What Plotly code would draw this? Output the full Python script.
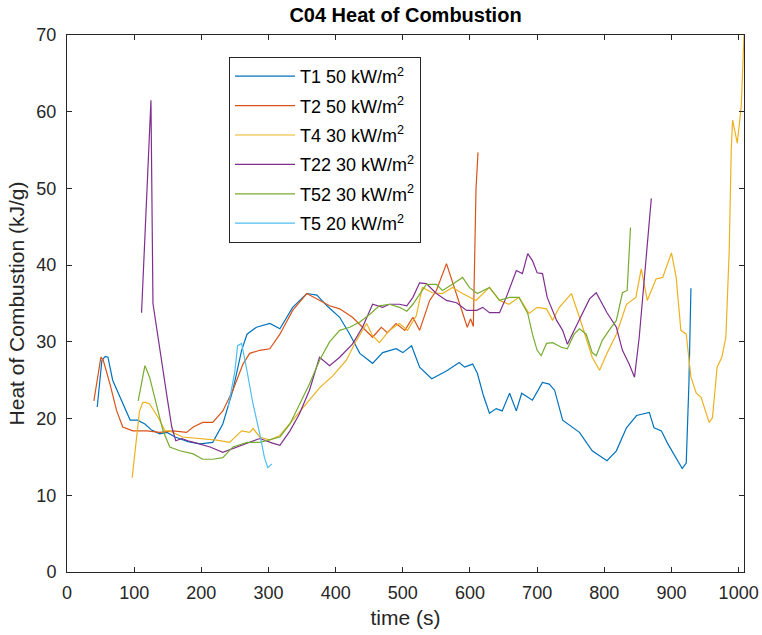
import plotly.graph_objects as go

# ---- data ----
t1_x = [45, 52, 57, 61, 68, 80, 94, 105, 116, 126, 138, 149, 161, 180, 198, 217, 232, 247, 260, 268, 282, 302, 317, 336, 357, 372, 387, 406, 421, 436, 455, 470, 490, 500, 513, 525, 543, 565, 584, 592, 604, 611, 620, 629, 639, 648, 659, 669, 677, 693, 708, 718, 726, 738, 763, 782, 804, 818, 833, 848, 867, 874, 885, 894, 907, 916, 922, 926, 929]
t1_y = [21.5, 27.6, 28.1, 28, 25, 22.5, 19.8, 19.8, 19.3, 18.5, 18, 18.2, 17.6, 17, 16.7, 16.9, 19.3, 23.7, 28.9, 31, 31.9, 32.4, 31.7, 34.5, 36.3, 36.1, 34.7, 33.2, 31, 28.5, 27.2, 28.6, 29.1, 28.6, 29.5, 26.7, 25.2, 26.2, 27.3, 26.7, 27.1, 25.9, 23, 20.7, 21.3, 21, 23.3, 21, 23.3, 22.4, 24.7, 24.5, 23.7, 19.8, 18.2, 15.8, 14.5, 15.8, 18.8, 20.4, 20.8, 18.8, 18.4, 16.8, 14.8, 13.5, 14.2, 24.6, 37]

t2_x = [40, 50.5, 54, 64, 74, 83, 98, 119, 138, 158, 178, 188, 202, 217, 232, 247, 262, 272, 287, 302, 317, 336, 357, 376, 391, 406, 425, 440, 455, 468, 477, 490, 503, 515, 525, 540, 550, 565, 577, 589, 596, 601, 605, 609, 612]
t2_y = [22.3, 28, 27.6, 24.5, 21, 18.9, 18.4, 18.4, 18.2, 18.4, 18.2, 18.9, 19.5, 19.5, 21, 23.7, 27.1, 28.5, 28.9, 29.1, 31, 34.1, 36.3, 35.4, 34.7, 34.3, 33.2, 31.9, 30.6, 31.9, 31.2, 32.4, 31.5, 33.2, 31.5, 35.4, 36.7, 40.2, 37.1, 33.7, 31.9, 33, 32, 50, 54.7]

t4_x = [97, 108, 113, 117, 123, 136, 146, 153, 172, 198, 223, 242, 252, 260, 272, 277, 287, 302, 317, 336, 357, 376, 396, 416, 431, 446, 455, 465, 480, 495, 507, 520, 529, 544, 559, 574, 589, 609, 629, 644, 658, 673, 688, 700, 714, 723, 733, 751, 763, 773, 782, 793, 804, 818, 833, 847, 855, 864, 877, 887, 900, 907, 914, 922, 929, 937, 944, 956, 961, 968, 975, 981, 986, 989, 991, 998, 1004, 1008]
t4_y = [12.3, 21, 22.1, 22.1, 21.9, 20.1, 18.4, 18.4, 17.6, 17.4, 17.2, 16.9, 17.8, 18.4, 18.2, 18.7, 17.6, 17.2, 17.8, 19.8, 21.9, 24, 25.6, 27.6, 30.2, 32.4, 30.8, 29.9, 31.5, 32.4, 31.5, 33.4, 37.1, 36.4, 36.3, 37.1, 36.3, 35.4, 37.1, 35.4, 34.9, 35.8, 33.7, 34.5, 34.3, 32.8, 34.5, 36.3, 33.2, 30.6, 28, 26.3, 28.5, 31, 34.9, 35.8, 39.5, 35.4, 38.2, 38.4, 41.6, 38.4, 31.5, 31, 25.4, 23.3, 22.8, 19.5, 20.1, 26.7, 28, 30.6, 41.9, 55, 58.9, 55.9, 60.8, 70]

t22_x = [111, 125, 128, 138, 149, 156, 162, 171, 180, 193, 213, 232, 247, 268, 287, 306, 317, 332, 346, 361, 376, 391, 406, 425, 440, 455, 470, 480, 495, 506, 515, 525, 535, 550, 565, 580, 595, 610, 619, 629, 644, 654, 669, 678, 686, 693, 700, 708, 715, 729, 738, 745, 755, 767, 778, 788, 797, 804, 818, 827, 837, 845, 852, 862, 870]
t22_y = [33.8, 61.5, 35, 28.9, 22.8, 18.9, 17.1, 17.4, 17.1, 16.8, 16.3, 15.6, 16.1, 16.8, 17.4, 16.8, 16.5, 18.4, 20.6, 23.7, 28, 26.9, 28, 29.7, 31.9, 34.9, 34.5, 34.9, 34.9, 34.7, 35.8, 37.7, 37.6, 36.3, 35.4, 35.1, 34.1, 34.1, 34.5, 33.8, 33.8, 35.8, 39.3, 38.9, 41.5, 40.6, 39, 38.9, 35.8, 32.8, 31.5, 29.7, 31.5, 33.7, 35.6, 36.4, 34.9, 33.8, 31.9, 28.9, 27.1, 25.4, 30.6, 40.2, 48.7]

t52_x = [106, 116, 123, 134, 143, 153, 168, 188, 202, 217, 232, 247, 268, 287, 302, 317, 332, 346, 361, 376, 391, 406, 421, 436, 451, 465, 480, 495, 506, 515, 525, 535, 550, 559, 574, 589, 599, 611, 629, 644, 659, 673, 686, 693, 700, 706, 714, 723, 736, 745, 755, 763, 773, 782, 788, 797, 807, 818, 827, 834, 839]
t52_y = [22.3, 26.9, 25.4, 21.4, 18.4, 16.3, 15.8, 15.4, 14.7, 14.7, 14.9, 16.3, 16.9, 16.9, 17.2, 17.6, 19.3, 21.9, 24.5, 27.6, 30, 31.5, 31.9, 32.6, 33.6, 34.7, 34.9, 34.5, 34, 34.9, 36.2, 37.5, 37.5, 36.7, 37.5, 38.4, 37.1, 36.3, 37.1, 35.4, 35.8, 35.8, 33.7, 31, 28.9, 28.2, 29.8, 29.9, 29.3, 29.1, 31, 31.7, 31, 28.6, 28.2, 30.2, 31.5, 32.8, 36.4, 36.7, 44.9]

t5_x = [240, 250, 254, 260, 268, 277, 287, 294, 299, 305]
t5_y = [21.5, 26.2, 29.5, 29.8, 26.2, 21.9, 18, 14.9, 13.6, 14.1]

names = ["T1 50 kW/m<sup>2</sup>", "T2 50 kW/m<sup>2</sup>", "T4 30 kW/m<sup>2</sup>",
         "T22 30 kW/m<sup>2</sup>", "T52 30 kW/m<sup>2</sup>", "T5 20 kW/m<sup>2</sup>"]
colors = ["#0072BD", "#D95319", "#EDB120", "#7E2F8E", "#77AC30", "#4DBEEE"]
xs = [t1_x, t2_x, t4_x, t22_x, t52_x, t5_x]
ys = [t1_y, t2_y, t4_y, t22_y, t52_y, t5_y]

x_ticks = list(range(0, 1001, 100))
y_ticks = list(range(0, 71, 10))

FONT = "Liberation Sans, Arial, sans-serif"
AX = "#262626"

fig = go.Figure()
for i, (x, y, n, c) in enumerate(zip(xs, ys, names, colors)):
    fig.add_trace(go.Scatter(x=x, y=y, mode="lines", name=n, legendgroup=f"g{i}",
                             line=dict(color=c, width=1.2)))

axis_common = dict(showline=True, linecolor=AX, linewidth=1, mirror="allticks",
                   ticks="inside", ticklen=5, tickcolor=AX, showgrid=False, automargin=False,
                   zeroline=False, tickfont=dict(family=FONT, size=18, color=AX))

fig.update_layout(
    width=762, height=635,
    margin=dict(l=67, r=18, t=35, b=63),
    paper_bgcolor="white", plot_bgcolor="white",
    font=dict(family=FONT, color=AX),
    title=dict(text="<b>C04 Heat of Combustion</b>", x=(67 + 744) / 2 / 762, xanchor="center",
               y=1 - 15 / 635, yanchor="middle", font=dict(size=20, color="#000000")),
    xaxis=dict(range=[0, 1008], tickvals=x_ticks, ticklabelstandoff=4,
               title=dict(text="time (s)", font=dict(size=21), standoff=8),
               **axis_common),
    yaxis=dict(range=[0, 70], tickvals=y_ticks, ticklabelstandoff=6,
               title=dict(text="Heat of Combustion (kJ/g)", font=dict(size=21), standoff=6),
               **axis_common),
    legend=dict(x=(229 - 67) / 677, y=(572 - 57) / 537, xanchor="left", yanchor="top",
                bgcolor="white", bordercolor=AX, borderwidth=1, tracegroupgap=3,
                font=dict(family=FONT, size=18, color="#000000"), itemwidth=60),
    showlegend=True,
)

fig.write_html("out.html")
